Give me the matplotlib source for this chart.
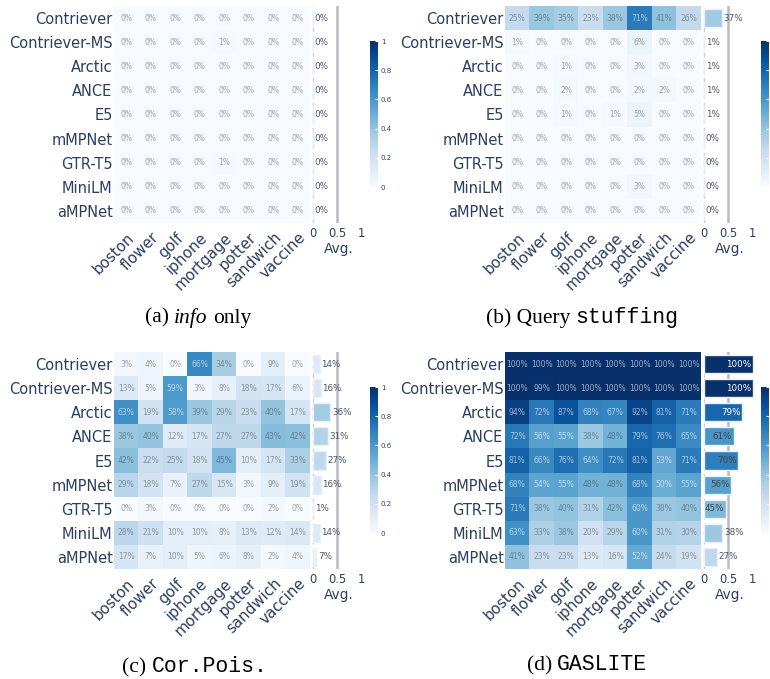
import numpy as np
import matplotlib.pyplot as plt
from matplotlib.offsetbox import TextArea, HPacker, AnnotationBbox

plt.rcParams['font.family'] = ['DejaVu Sans']

models = ['Contriever', 'Contriever-MS', 'Arctic', 'ANCE', 'E5',
          'mMPNet', 'GTR-T5', 'MiniLM', 'aMPNet']
topics = ['boston', 'flower', 'golf', 'iphone', 'mortgage',
          'potter', 'sandwich', 'vaccine']

# success rates in percent, rows = models, cols = topics
info_vals = [
    [0, 0, 0, 0, 0, 0, 0, 0],
    [0, 0, 0, 0, 1, 0, 0, 0],
    [0, 0, 0, 0, 0, 0, 0, 0],
    [0, 0, 0, 0, 0, 0, 0, 0],
    [0, 0, 0, 0, 0, 0, 0, 0],
    [0, 0, 0, 0, 0, 0, 0, 0],
    [0, 0, 0, 0, 1, 0, 0, 0],
    [0, 0, 0, 0, 0, 0, 0, 0],
    [0, 0, 0, 0, 0, 0, 0, 0],
]
info_avg = [0, 0, 0, 0, 0, 0, 0, 0, 0]

stuff_vals = [
    [25, 39, 35, 23, 38, 71, 41, 26],
    [1, 0, 0, 0, 0, 6, 0, 0],
    [0, 0, 1, 0, 0, 3, 0, 0],
    [0, 0, 2, 0, 0, 2, 2, 0],
    [0, 0, 1, 0, 1, 5, 0, 0],
    [0, 0, 0, 0, 0, 0, 0, 0],
    [0, 0, 0, 0, 0, 0, 0, 0],
    [0, 0, 0, 0, 0, 3, 0, 0],
    [0, 0, 0, 0, 0, 0, 0, 0],
]
stuff_avg = [37, 1, 1, 1, 1, 0, 0, 0, 0]

corpois_vals = [
    [3, 4, 0, 66, 34, 0, 9, 0],
    [13, 5, 59, 3, 8, 18, 17, 6],
    [63, 19, 58, 39, 29, 23, 40, 17],
    [38, 40, 12, 17, 27, 27, 43, 42],
    [42, 22, 25, 18, 45, 10, 17, 33],
    [29, 18, 7, 27, 15, 3, 9, 19],
    [0, 3, 0, 0, 0, 0, 2, 0],
    [28, 21, 10, 10, 8, 13, 12, 14],
    [17, 7, 10, 5, 6, 8, 2, 4],
]
corpois_avg = [14, 16, 36, 31, 27, 16, 1, 14, 7]

gaslite_vals = [
    [100, 100, 100, 100, 100, 100, 100, 100],
    [100, 99, 100, 100, 100, 100, 100, 100],
    [94, 72, 87, 68, 67, 92, 81, 71],
    [72, 56, 55, 38, 48, 79, 76, 65],
    [81, 66, 76, 64, 72, 81, 53, 71],
    [68, 54, 55, 48, 48, 68, 50, 55],
    [71, 38, 40, 31, 42, 60, 38, 40],
    [63, 33, 38, 20, 29, 60, 31, 30],
    [41, 23, 23, 13, 16, 52, 24, 19],
]
gaslite_avg = [100, 100, 79, 61, 70, 56, 45, 38, 27]

W, H = 770, 679
TXT = '#2a3f5f'
cmap = plt.get_cmap('Blues')

fig = plt.figure(figsize=(W / 100, H / 100), dpi=100)


def box(x0, y0, x1, y1):
    # pixel box (top-left origin) -> figure fraction
    return [x0 / W, 1 - y1 / H, (x1 - x0) / W, (y1 - y0) / H]


def panel(vals, avg, x0, y0, cbar_labels=True):
    vals = np.array(vals)
    avg = np.array(avg)
    nr, nc = vals.shape

    ax = fig.add_axes(box(x0, y0, x0 + 196, y0 + 217))
    im = ax.imshow(vals / 100, cmap=cmap, vmin=0, vmax=1, aspect='auto',
                   interpolation='nearest')
    for i in range(nr):
        for j in range(nc):
            v = vals[i, j]
            if v >= 50:
                c, a = 'white', 0.6
            else:
                c, a = '#333333', 0.45
            ax.text(j, i, f'{v}%', ha='center', va='center', fontsize=5.5,
                    color=c, alpha=a)
    ax.set_yticks(range(nr))
    ax.set_yticklabels(models, fontsize=10.5, color=TXT)
    ax.set_xticks(range(nc))
    ax.set_xticklabels(topics, fontsize=10.8, color=TXT, rotation=45,
                       ha='right', rotation_mode='anchor')
    ax.tick_params(length=0, pad=1)
    ax.tick_params(axis='x', pad=5)
    for s in ax.spines.values():
        s.set_visible(False)

    # average bars
    u = 48.5
    bx = fig.add_axes(box(x0 + 199 - 0.04 * u, y0, x0 + 199 + 1.12 * u, y0 + 217))
    bx.axvline(0, color='#cfcfcf', lw=1, ls=(0, (3, 3)), zorder=0)
    bx.axvline(0.5, color='#b9b9c1', lw=1.8, zorder=0)
    bx.barh(range(nr), avg / 100, height=0.75, color=cmap(avg / 100),
            edgecolor='#e9eff6', linewidth=1, zorder=2)
    for i, v in enumerate(avg):
        if v >= 45:
            col = 'white' if v >= 75 else '#444444'
            bx.text(v / 100 - 0.03, i, f'{v}%', ha='right', va='center',
                    fontsize=6.3, color=col, zorder=3)
        else:
            bx.text(v / 100 + 0.03, i, f'{v}%', ha='left', va='center',
                    fontsize=6.3, color='#4a5568', zorder=3)
    bx.set_xlim(-0.04, 1.12)
    bx.set_ylim(nr - 0.5, -0.5)
    bx.set_yticks([])
    bx.set_xticks([0, 0.5, 1])
    bx.set_xticklabels(['0', '0.5', '1'], fontsize=8.3, color=TXT)
    bx.tick_params(length=0, pad=3)
    bx.set_xlabel('Avg.', fontsize=9.8, color=TXT, labelpad=1)
    for s in bx.spines.values():
        s.set_visible(False)

    # colorbar
    cax = fig.add_axes(box(x0 + 256, y0 + 35, x0 + 264, y0 + 181))
    cb = fig.colorbar(im, cax=cax)
    cb.set_ticks([0, 0.2, 0.4, 0.6, 0.8, 1])
    if cbar_labels:
        cb.set_ticklabels(['0', '0.2', '0.4', '0.6', '0.8', '1'])
    else:
        cb.set_ticklabels([])
    cb.outline.set_visible(False)
    cax.tick_params(labelsize=5, labelcolor=TXT, direction='in',
                    color='white', length=2, width=0.8, pad=2)


def caption(parts, x, y):
    boxes = [TextArea(t, textprops=p) for t, p in parts]
    pack = HPacker(children=boxes, align='baseline', pad=0, sep=4)
    ab = AnnotationBbox(pack, (x / W, 1 - y / H), xycoords='figure fraction',
                        frameon=False, box_alignment=(0.5, 0.5))
    fig.add_artist(ab)


serif = dict(family='Liberation Serif', size=15.5, color='black')
serif_it = dict(family='Liberation Serif', size=15.5, style='italic', color='black')
mono = dict(family='Liberation Mono', size=15.5, color='black')

panel(info_vals, info_avg, 114, 6)
# right-hand colorbars run off the canvas, as in the original figure
panel(stuff_vals, stuff_avg, 505, 6, cbar_labels=False)
panel(corpois_vals, corpois_avg, 114, 352)
panel(gaslite_vals, gaslite_avg, 505, 352, cbar_labels=False)

caption([('(a)', serif), ('info', serif_it), ('only', serif)], 198, 318)
caption([('(b) Query', serif), ('stuffing', mono)], 582, 318)
caption([('(c)', serif), ('Cor.Pois.', mono)], 195, 667)
caption([('(d)', serif), ('GASLITE', mono)], 587, 665)

fig.savefig('out.png', dpi=100)
